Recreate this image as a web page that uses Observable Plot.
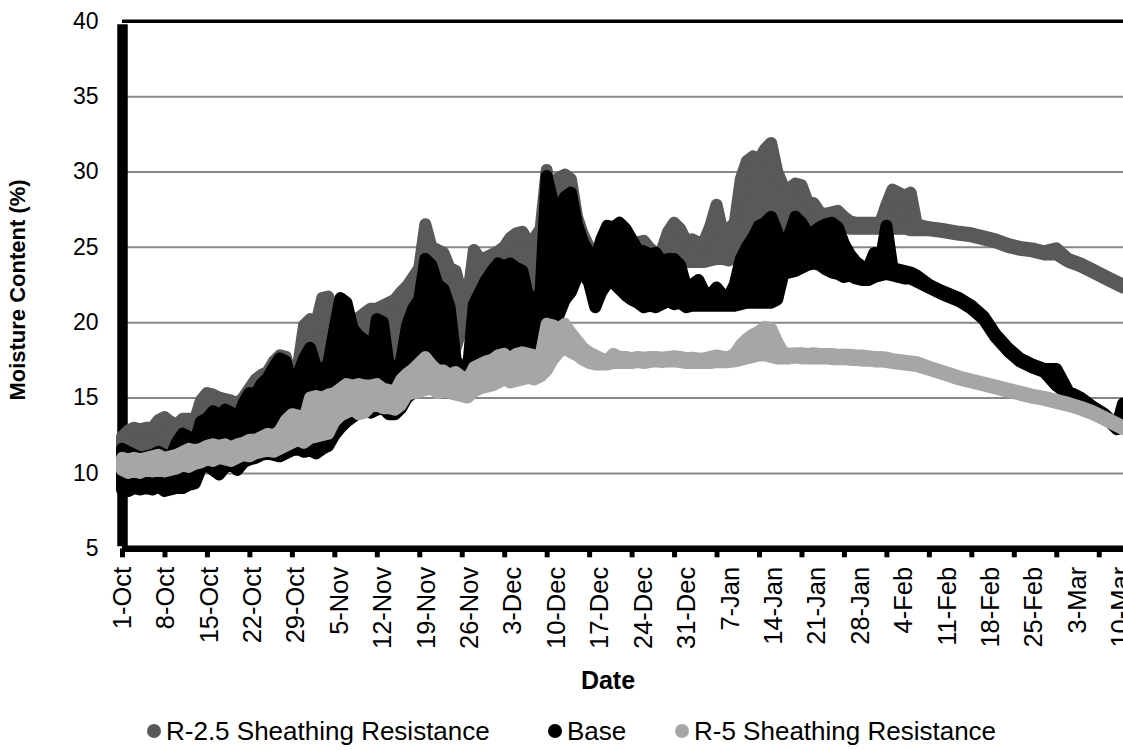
<!DOCTYPE html>
<html>
<head>
<meta charset="utf-8">
<script src="https://cdn.jsdelivr.net/npm/d3@7"></script>
<script src="https://cdn.jsdelivr.net/npm/@observablehq/plot@0.6"></script>
<style>
  html, body { margin: 0; padding: 0; background: #fff; overflow: hidden; }
  #chart { position: relative; width: 1123px; height: 750px; font-family: "Liberation Sans", Arial, sans-serif; }
  .item { position: absolute; top: 716px; height: 30px; line-height: 30px; display: flex; align-items: center; white-space: nowrap; font-size: 26px; color: #000; }
  .sw { width: 14px; height: 14px; border-radius: 50%; margin-right: 5px; flex: none; }
  .ytitle { position: absolute; left: 18px; top: 290px; transform: translate(-50%, -50%) rotate(-90deg); white-space: nowrap;
            font-weight: bold; font-size: 22px; color: #000; }
</style>
</head>
<body>
<div id="chart"></div>
<script>
// ---- data ----
const startYear = 2011, startMonth = 9, startDay = 1; // 1-Oct-2011
const dayOffsets = [
  0,1,2,3,4,5,6,7,8,9,
  10,11,12,13,14,15,16,17,18,19,
  20,21,22,23,24,25,26,27,28,29,
  30,31,32,33,34,35,36,37,38,39,
  40,41,42,43,44,45,46,47,48,49,
  50,51,52,53,54,55,56,57,58,59,
  60,61,62,63,64,65,66,67,68,69,
  70,71,72,73,74,75,76,77,78,79,
  80,81,82,83,84,85,86,87,88,89,
  90,91,92,93,94,95,96,97,98,99,
  100,101,102,103,104,105,106,107,108,109,
  110,111,112,113,114,115,116,117,118,119,
  120,121,122,123,124,125,126,127,128,129,
  130,131,
  133,135,138,140,142,144,146,148,150,152,154,156,158,160,162,164,165
];

const r25Lo = [
  11.5,11.6,11.8,11.7,11.8,11.9,12.0,11.8,11.9,12.0,
  12.2,12.3,12.4,12.8,13.0,13.2,12.9,13.1,13.2,13.0,
  13.5,13.8,14.0,14.2,14.4,14.3,14.2,14.5,14.6,14.8,
  15.0,15.1,15.0,15.2,15.4,15.6,16.0,16.2,16.4,16.5,
  16.6,16.8,17.0,17.2,17.0,17.0,17.2,17.5,17.8,18.0,
  18.4,18.5,18.6,18.6,18.4,18.3,19.6,19.6,20.0,20.3,
  20.5,20.8,21.0,21.2,21.3,21.4,21.6,21.5,21.6,21.8,
  22.0,22.5,23.0,23.4,23.6,23.8,23.6,23.4,23.2,23.4,
  23.6,23.8,23.9,24.0,23.8,23.7,23.6,23.5,23.6,23.8,
  24.0,24.2,24.1,24.0,24.0,24.0,24.0,24.1,24.2,24.2,
  24.1,24.3,24.8,25.5,25.8,26.0,26.2,26.4,26.3,26.2,
  26.3,26.4,26.5,26.5,26.6,26.6,26.5,26.5,26.4,26.3,
  26.2,26.2,26.2,26.2,26.2,26.2,26.2,26.2,26.2,26.2,
  26.1,26.1,
  26.1,26.0,25.8,25.7,25.5,25.3,25.0,24.8,24.7,24.5,24.5,24.0,23.7,23.3,22.9,22.5,22.3
];
const r25Hi = [
  12.4,12.8,13.0,12.9,13.0,13.0,13.5,13.7,13.4,13.2,
  13.6,13.6,13.5,14.8,15.3,15.2,15.0,14.9,14.8,14.6,
  15.0,15.6,16.2,16.5,16.7,17.4,17.8,17.7,16.2,17.0,
  19.8,20.2,19.9,21.6,21.7,20.2,20.0,19.9,20.1,20.3,
  20.6,20.9,20.9,21.1,21.3,21.5,22.0,22.4,23.0,23.6,
  26.5,25.0,24.8,24.6,23.6,23.4,21.8,21.6,24.8,24.2,
  24.3,24.5,24.7,25.0,25.6,25.9,26.0,25.3,25.6,26.2,
  30.1,28.0,29.6,29.8,29.5,27.0,25.8,25.0,24.6,25.0,
  25.5,25.8,25.9,25.6,25.3,25.3,25.4,24.9,24.6,24.8,
  26.0,26.6,26.2,25.4,25.5,25.3,25.4,26.4,27.8,26.0,
  26.2,26.6,29.5,30.7,31.0,30.8,31.5,31.9,30.0,29.0,
  28.9,29.2,29.1,28.0,27.9,27.3,27.2,27.3,27.4,27.0,
  26.7,26.6,26.6,26.6,26.6,26.6,27.8,28.8,28.6,28.4,
  28.6,26.5,
  26.3,26.2,26.0,25.9,25.7,25.5,25.2,25.0,24.9,24.7,24.9,24.2,23.9,23.5,23.1,22.7,22.5
];

const baseLo = [
  8.9,8.8,9.0,8.9,9.0,8.9,9.1,8.8,8.9,9.0,
  9.0,9.2,9.3,10.3,10.5,10.2,9.9,10.4,10.6,10.2,
  10.7,10.9,11.0,11.2,11.3,11.2,11.1,11.3,11.5,11.6,
  11.4,11.5,11.3,11.6,11.8,12.5,13.0,13.4,13.7,14.0,
  14.2,14.0,14.2,14.3,13.9,13.9,14.3,15.0,15.3,15.5,
  15.6,15.8,15.6,15.4,15.3,15.3,15.2,15.1,15.5,15.8,
  16.0,16.5,17.5,18.2,18.0,18.3,18.1,17.8,17.6,17.9,
  19.0,19.5,20.5,21.5,22.0,23.0,23.3,22.6,21.0,22.0,
  22.6,22.6,22.2,21.8,21.5,21.3,21.0,21.1,21.0,21.2,
  21.4,21.2,21.3,21.0,21.1,21.1,21.1,21.1,21.1,21.1,
  21.1,21.1,21.2,21.3,21.3,21.3,21.3,21.3,21.5,23.2,
  23.3,23.4,23.6,23.8,23.9,23.8,23.5,23.3,23.2,23.0,
  23.1,22.9,22.8,22.8,23.0,23.1,23.2,23.1,23.0,22.9,
  22.9,22.7,
  22.3,21.9,21.4,20.9,20.2,19.0,18.1,17.4,17.0,16.7,15.8,15.2,14.8,14.2,13.7,12.9,14.4
];
const baseHi = [
  11.6,11.4,11.2,11.0,11.1,11.2,11.4,11.2,11.0,12.0,
  12.6,12.4,12.0,13.4,13.6,14.1,13.8,14.2,14.0,13.5,
  14.6,15.3,15.2,15.9,16.3,17.0,17.6,17.4,15.8,16.5,
  17.6,18.3,17.0,16.9,17.2,19.5,21.6,21.3,19.6,19.1,
  18.8,17.2,20.2,20.0,17.0,16.8,17.4,19.8,20.9,21.5,
  24.2,23.8,22.5,22.2,21.0,17.5,17.0,16.8,21.2,22.0,
  22.8,23.4,23.9,23.7,23.9,23.6,23.4,21.6,21.5,22.0,
  29.7,28.0,27.5,28.3,28.6,26.5,25.3,24.6,24.0,25.5,
  26.4,26.3,26.6,26.2,25.5,24.8,24.7,24.5,24.6,24.0,
  24.2,24.2,23.8,22.3,22.5,22.8,22.0,21.8,22.3,21.8,
  21.7,22.5,24.2,25.0,25.6,26.4,26.6,27.0,26.0,24.6,
  25.8,27.0,26.6,25.9,26.0,26.3,26.5,26.6,26.3,25.2,
  24.5,24.0,23.7,23.6,24.6,24.0,26.4,23.6,23.5,23.4,
  23.3,23.1,
  22.5,22.1,21.6,21.1,20.4,19.2,18.3,17.6,17.2,16.9,16.9,15.4,15.0,14.4,13.9,13.1,14.6
];

const r5Lo = [
  10.2,10.0,10.1,10.0,10.2,10.1,10.2,10.1,10.2,10.3,
  10.5,10.4,10.6,10.7,10.9,10.8,11.0,10.9,10.8,11.0,
  11.2,11.1,11.3,11.4,11.5,11.4,11.6,11.8,12.0,12.2,
  12.0,12.3,12.4,12.5,12.6,13.4,13.8,14.0,14.2,13.9,
  14.0,14.4,14.5,14.3,14.3,14.2,14.5,15.2,15.3,15.4,
  15.5,15.6,15.3,15.4,15.3,15.2,15.1,15.0,15.4,15.6,
  15.7,15.8,16.0,16.2,16.0,16.1,16.2,16.3,16.2,16.4,
  16.8,17.5,18.0,18.3,18.0,17.8,17.5,17.3,17.2,17.2,
  17.2,17.3,17.3,17.3,17.3,17.35,17.3,17.35,17.4,17.35,
  17.4,17.4,17.35,17.3,17.3,17.3,17.3,17.3,17.35,17.35,
  17.35,17.4,17.5,17.6,17.7,17.8,17.8,17.7,17.6,17.6,
  17.6,17.65,17.6,17.6,17.6,17.6,17.6,17.55,17.55,17.55,
  17.5,17.5,17.45,17.45,17.4,17.4,17.35,17.3,17.25,17.2,
  17.15,17.1,
  16.85,16.6,16.2,16.0,15.8,15.6,15.4,15.2,15.0,14.85,14.65,14.45,14.2,13.9,13.5,13.1,12.9
];
const r5Hi = [
  11.0,10.9,11.0,10.9,11.0,11.1,11.2,11.0,11.1,11.2,
  11.4,11.6,11.5,11.6,11.8,11.9,11.8,11.9,11.7,11.9,
  12.0,12.2,12.2,12.4,12.6,12.5,12.8,13.5,13.9,13.8,
  13.5,15.0,15.1,15.0,15.2,15.3,15.6,15.9,15.8,15.9,
  15.8,15.8,15.9,15.6,15.5,15.4,16.2,16.6,16.9,17.3,
  17.7,17.2,16.8,16.8,16.5,16.7,16.4,16.2,17.0,17.2,
  17.4,17.5,17.8,17.9,17.6,17.9,18.0,17.9,17.8,17.8,
  19.9,19.8,19.6,19.9,19.3,18.8,18.3,18.0,17.8,17.6,
  17.5,17.9,17.7,17.7,17.6,17.7,17.65,17.7,17.7,17.65,
  17.7,17.75,17.7,17.6,17.65,17.6,17.6,17.7,17.8,17.7,
  17.7,17.9,18.5,18.9,19.2,19.4,19.7,19.6,18.7,18.0,
  17.9,17.95,17.95,17.9,17.95,17.9,17.9,17.9,17.85,17.85,
  17.85,17.8,17.8,17.75,17.7,17.7,17.65,17.55,17.5,17.45,
  17.4,17.35,
  17.05,16.8,16.4,16.2,16.0,15.8,15.6,15.4,15.2,15.05,14.85,14.65,14.4,14.1,13.7,13.3,13.1
];

const seriesNames = ["R-2.5 Sheathing Resistance", "Base", "R-5 Sheathing Resistance"];
const seriesColors = ["#595959", "#000000", "#a6a6a6"];
const yTitle = "Moisture Content (%)";
const xTitle = "Date";

const yTicks = [5, 10, 15, 20, 25, 30, 35, 40];
const gridValues = [10, 15, 20, 25, 30, 35];
const xTickDays = [0,7,14,21,28,35,42,49,56,63,70,77,84,91,98,105,112,119,126,133,140,147,154,161];
const xTickLabels = ["1-Oct","8-Oct","15-Oct","22-Oct","29-Oct","5-Nov","12-Nov","19-Nov","26-Nov","3-Dec",
  "10-Dec","17-Dec","24-Dec","31-Dec","7-Jan","14-Jan","21-Jan","28-Jan","4-Feb","11-Feb","18-Feb","25-Feb","3-Mar","10-Mar"];
const domainDays = [0, 165];

// ---- build ----
const W = 1123, H = 750, ML = 122, MT = 20.8, MB = H - 548.3;
const toDate = d => new Date(Date.UTC(startYear, startMonth, startDay + d));
const makeRows = (lo, hi) => dayOffsets.map((d, i) => ({date: toDate(d), lo: lo[i], hi: hi[i]}));
const series = [
  {name: seriesNames[0], color: seriesColors[0], rows: makeRows(r25Lo, r25Hi)},
  {name: seriesNames[1], color: seriesColors[1], rows: makeRows(baseLo, baseHi)},
  {name: seriesNames[2], color: seriesColors[2], rows: makeRows(r5Lo, r5Hi)}
];
const xTickDates = xTickDays.map(toDate);
// the category labels in the original drift slightly right of their tick marks (~0.95px per label)
const msPerPx = (domainDays[1] - domainDays[0]) * 864e5 / (W - ML);
const labelDates = xTickDates.map((d, i) => new Date(+d + i * 0.95 * msPerPx));
const labelByTime = new Map(labelDates.map((d, i) => [+d, xTickLabels[i]]));

const chart = Plot.plot({
  width: W,
  height: H,
  marginLeft: ML,
  marginRight: 0,
  marginTop: MT,
  marginBottom: MB,
  x: {type: "utc", domain: domainDays.map(toDate)},
  y: {domain: [5, 40]},
  style: {fontFamily: "'Liberation Sans', Arial, sans-serif", fontSize: "23px", color: "#000", background: "#fff", overflow: "hidden"},
  marks: [
    Plot.ruleY(gridValues, {stroke: "#878787", strokeWidth: 2}),
    Plot.ruleY([40], {stroke: "#000", strokeWidth: 3.5}),
    Plot.ruleY([5], {stroke: "#000", strokeWidth: 6.5}),
    Plot.ruleX([toDate(0)], {y1: 5, y2: 40, stroke: "#000", strokeWidth: 10.5, insetTop: -2, insetBottom: -3.5}),
    Plot.axisX({ticks: xTickDates, tickFormat: () => "", tickSize: 9, strokeWidth: 5, label: null}),
    Plot.axisX({ticks: labelDates, tickFormat: d => labelByTime.get(+d), tickRotate: -90, tickSize: 0, tickPadding: 18,
                fontSize: 25.5, label: null}),
    Plot.axisY({ticks: yTicks, tickSize: 0, tickPadding: 24, fontSize: 23, label: null}),
    ...series.map(s => Plot.areaY(s.rows, {x: "date", y1: "lo", y2: "hi", fill: s.color, stroke: s.color,
                strokeWidth: 12, strokeLinejoin: "round", strokeLinecap: "round", curve: "linear"})),
    Plot.text([xTitle], {frameAnchor: "bottom", dx: -15, dy: 140, fontWeight: "bold", fontSize: 25})
  ]
});
const root = document.getElementById("chart");
root.appendChild(chart);

// y-axis title
const yt = document.createElement("div");
yt.className = "ytitle";
yt.textContent = yTitle;
root.appendChild(yt);

// legend
const legendLefts = [147, 548, 675];
series.forEach((s, i) => {
  const it = document.createElement("div");
  it.className = "item";
  it.style.left = legendLefts[i] + "px";
  const sw = document.createElement("span");
  sw.className = "sw";
  sw.style.background = s.color;
  const tx = document.createElement("span");
  tx.textContent = s.name;
  it.appendChild(sw);
  it.appendChild(tx);
  root.appendChild(it);
});
</script>
</body>
</html>
